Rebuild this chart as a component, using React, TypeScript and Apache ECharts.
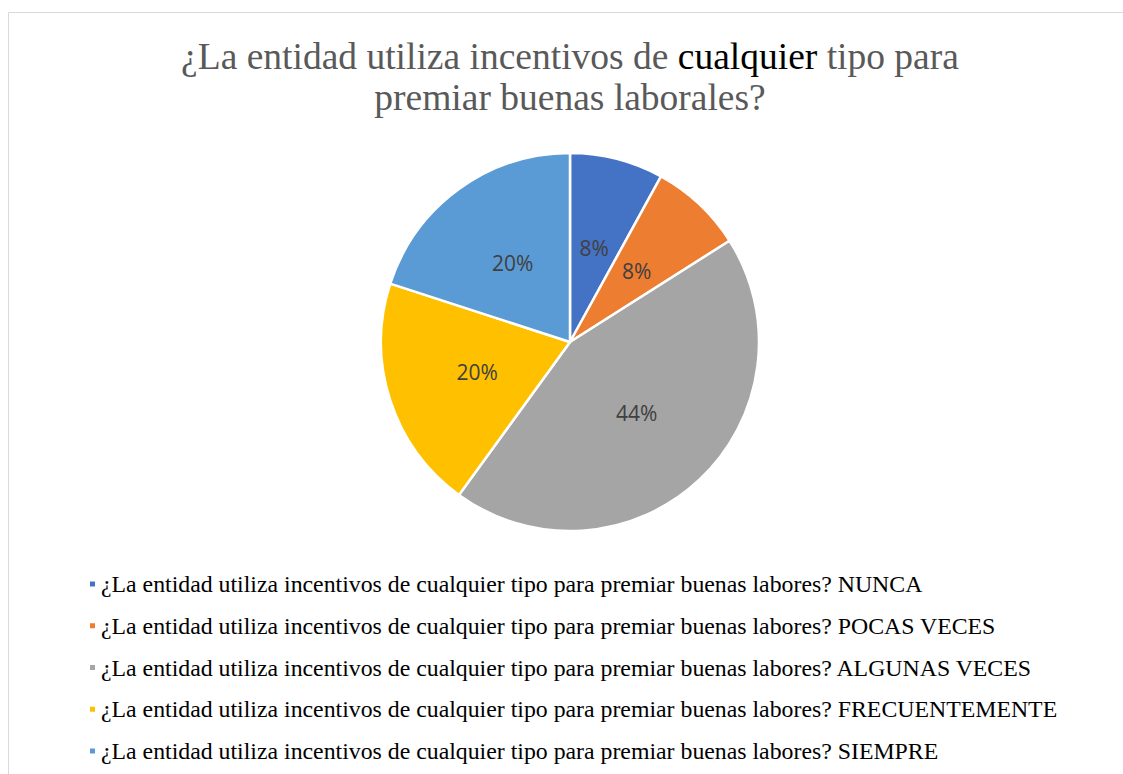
import React, { useEffect, useRef } from "react";
import * as echarts from "echarts";

const question = "¿La entidad utiliza incentivos de cualquier tipo para premiar buenas labores?";
const categories = ["NUNCA", "POCAS VECES", "ALGUNAS VECES", "FRECUENTEMENTE", "SIEMPRE"];
const values = [8, 8, 44, 20, 20];
const colors = ["#4472C4", "#ED7D31", "#A5A5A5", "#FFC000", "#5B9BD5"];

const SERIF = "Liberation Serif";

export default function App() {
  const ref = useRef<HTMLDivElement>(null);
  useEffect(() => {
    const chart = echarts.init(ref.current!, null, { renderer: "svg" });
    const names = categories.map((c) => `${question} ${c}`);
    chart.setOption({
      animation: false,
      backgroundColor: "#ffffff",
      color: colors,
      graphic: [
        { type: "line", shape: { x1: 8.5, y1: 12.5, x2: 1123, y2: 12.5 }, style: { stroke: "#d9d9d9", lineWidth: 1 } },
        { type: "line", shape: { x1: 8.5, y1: 12.5, x2: 8.5, y2: 774 }, style: { stroke: "#d9d9d9", lineWidth: 1 } },
        {
          type: "text",
          x: 570,
          y: 36,
          style: {
            text: "{g|¿La entidad utiliza incentivos de }{b|cualquier}{g| tipo para}\n{g|premiar buenas laborales?}",
            align: "center",
            verticalAlign: "top",
            rich: {
              g: { fontFamily: SERIF, fontSize: 37.5, fill: "#595959", lineHeight: 41 },
              b: { fontFamily: SERIF, fontSize: 37.5, fill: "#000000", lineHeight: 41 },
            },
          },
        },
      ],
      legend: {
        orient: "vertical",
        left: 88,
        top: 572,
        padding: 0,
        icon: "rect",
        itemWidth: 7,
        itemHeight: 7,
        itemGap: 17.75,
        textStyle: { fontFamily: SERIF, fontSize: 23.8, lineHeight: 24, color: "#000000" },
        data: names,
      },
      series: [
        {
          type: "pie",
          center: [570, 342],
          radius: 189,
          startAngle: 90,
          clockwise: true,
          itemStyle: { borderColor: "#ffffff", borderWidth: 2.5 },
          label: {
            show: true,
            position: "inside",
            formatter: "{d}%",
            fontFamily: "Open Sans",
            fontSize: 21,
            color: "#404040",
          },
          labelLine: { show: false },
          emphasis: { disabled: true },
          data: names.map((n, i) => ({ name: n, value: values[i] })),
        },
      ],
    });
    return () => chart.dispose();
  }, []);
  return <div ref={ref} style={{ position: "fixed", left: 0, top: 0, width: 1123, height: 774 }} />;
}
